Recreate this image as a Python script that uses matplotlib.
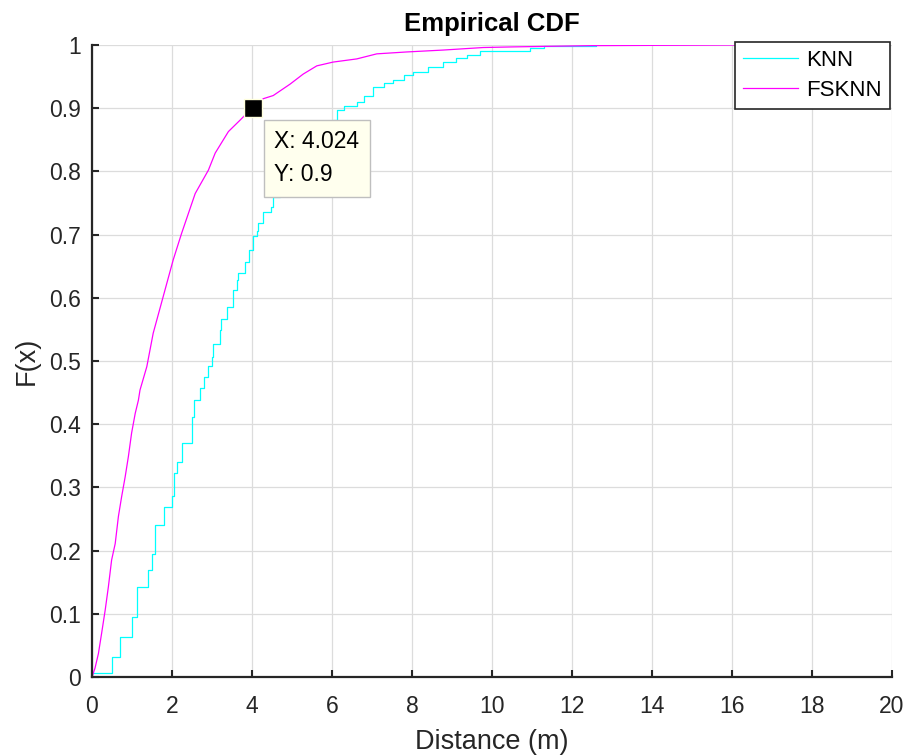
import numpy as np
import matplotlib
matplotlib.use("Agg")
import matplotlib.pyplot as plt

plt.rcParams['font.family'] = ['Liberation Sans', 'DejaVu Sans']

# KNN empirical CDF (step points, value holds until next x)
knn_x = [0, 0, 0.49, 0.71, 0.99, 1.12, 1.41, 1.50, 1.58, 1.80, 2.01, 2.06, 2.12,
         2.24, 2.51, 2.55, 2.70, 2.81, 2.91, 2.99, 3.03, 3.20, 3.22, 3.37, 3.53,
         3.62, 3.64, 3.82, 3.92, 4.03, 4.13, 4.16, 4.28, 4.47, 4.53, 4.70, 4.85,
         5.00, 5.20, 5.40, 5.60, 5.80, 6.03, 6.12, 6.30, 6.62, 6.80, 7.03, 7.30,
         7.53, 7.80, 8.03, 8.40, 8.78, 9.10, 9.37, 9.70, 10.95, 11.30, 12.60]
knn_y = [0, 0.007, 0.031, 0.064, 0.095, 0.143, 0.170, 0.194, 0.240, 0.269, 0.287,
         0.322, 0.340, 0.371, 0.411, 0.438, 0.458, 0.474, 0.492, 0.507, 0.527,
         0.549, 0.566, 0.585, 0.613, 0.628, 0.640, 0.657, 0.675, 0.698, 0.706,
         0.718, 0.735, 0.744, 0.760, 0.775, 0.790, 0.805, 0.820, 0.838, 0.853,
         0.868, 0.882, 0.897, 0.903, 0.910, 0.920, 0.934, 0.940, 0.945, 0.952,
         0.958, 0.965, 0.973, 0.979, 0.984, 0.991, 0.995, 0.998, 1.0]

# FSKNN empirical CDF (fine steps, read as a line)
fsknn_x = [0, 0.075, 0.16, 0.24, 0.33, 0.41, 0.49, 0.58, 0.66, 0.74, 0.83, 0.91,
           0.99, 1.08, 1.16, 1.20, 1.37, 1.53, 1.78, 2.03, 2.24, 2.58, 2.91, 3.08,
           3.41, 3.70, 3.95, 4.024, 4.28, 4.53, 4.95, 5.28, 5.62, 6.03, 6.62,
           7.12, 7.87, 8.78, 9.78, 10.53, 12.50, 16.10]
fsknn_y = [0, 0.014, 0.037, 0.069, 0.106, 0.143, 0.185, 0.211, 0.254, 0.285,
           0.317, 0.349, 0.386, 0.417, 0.438, 0.454, 0.491, 0.544, 0.602, 0.660,
           0.702, 0.765, 0.802, 0.829, 0.863, 0.881, 0.897, 0.900, 0.915, 0.920,
           0.938, 0.954, 0.967, 0.973, 0.978, 0.986, 0.989, 0.992, 0.996, 0.997,
           0.999, 1.0]

tip_x = 4.024
tip_y = 0.9

xticks = np.arange(0, 21, 2)
yticks = np.arange(0, 1.01, 0.1)
ytick_labels = ['0', '0.1', '0.2', '0.3', '0.4', '0.5', '0.6', '0.7', '0.8', '0.9', '1']

fig = plt.figure(figsize=(9.1, 7.55), dpi=100)
ax = fig.add_axes([92 / 910, 78 / 755, 800 / 910, 632 / 755])

ax.step(knn_x, knn_y, where='post', color='#00FFFF', lw=0.9, label='KNN')
ax.plot(fsknn_x, fsknn_y, color='#FF00FF', lw=0.9, label='FSKNN')

ax.set_xlim(0, 20)
ax.set_ylim(0, 1)
ax.set_xticks(xticks)
ax.set_yticks(yticks)
ax.set_yticklabels(ytick_labels)
ax.grid(True, color='#DCDCDC', lw=0.9)
ax.set_axisbelow(True)

for s in ['top', 'right']:
    ax.spines[s].set_visible(False)
for s in ['left', 'bottom']:
    ax.spines[s].set_color('#262626')
    ax.spines[s].set_linewidth(1.6)

ax.tick_params(direction='in', length=5, width=1.5, colors='#262626', labelsize=16.5)
ax.tick_params(axis='x', pad=13)
ax.tick_params(axis='y', pad=8)

ax.set_xlabel('Distance (m)', fontsize=19.5, color='#262626', labelpad=8)
ax.set_ylabel('F(x)', fontsize=19.5, color='#262626', labelpad=7)
ax.set_title('Empirical CDF', fontsize=18.5, fontweight='bold', pad=10)

leg = ax.legend(loc='upper right', bbox_to_anchor=(0.997, 1.005), borderaxespad=0,
                fontsize=16, fancybox=False, framealpha=1, edgecolor='#262626',
                handlelength=2.5, handletextpad=0.35, labelspacing=0.42,
                borderpad=0.35)
leg.get_frame().set_linewidth(1.2)
leg.set_zorder(10)

# data tip
ax.plot([tip_x], [tip_y], marker='s', ms=13, color='black', mec='#FFFFDD', mew=1,
        zorder=11, clip_on=False)
ax.annotate('X: %.3f\nY: %.1f' % (tip_x, tip_y), xy=(tip_x, tip_y),
            xytext=(15.5, -16), textcoords='offset points', ha='left', va='top',
            fontsize=16.5, linespacing=1.55, color='black', zorder=12,
            bbox=dict(boxstyle='square,pad=0.45', fc='#FFFFEE', ec='#BFBFBF', lw=1))

fig.savefig('out.png', dpi=100)
